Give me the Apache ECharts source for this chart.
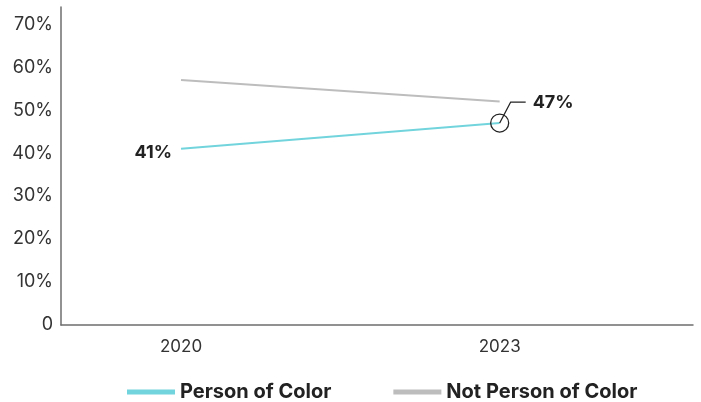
<!DOCTYPE html>
<html><head><meta charset="utf-8">
<script src="https://cdn.jsdelivr.net/npm/echarts@6/dist/echarts.min.js"></script>
<style>html,body{margin:0;padding:0;background:#fff}#c{width:701px;height:402px}</style>
</head><body><div id="c"></div>
<script>
var years = [2020, 2023];
var yearLabels = [2020, 2023];
var personOfColor = [41, 47];
var notPersonOfColor = [57, 52];
var yTicks = [0, 10, 20, 30, 40, 50, 60, 70];
var seriesNames = ['Person of Color', 'Not Person of Color'];

var FONT = 'Inter, "Noto Sans", sans-serif';
var chart = echarts.init(document.getElementById('c'), null, {renderer: 'canvas'});

function pts(arr) { return years.map(function (y, i) { return [y, arr[i]]; }); }

var teal = pts(personOfColor).map(function (p, i) {
  var d = {value: p};
  if (i === 0) {
    d.symbol = 'circle'; d.symbolSize = 0;
    d.label = {show: true, position: 'left', distance: 9, offset: [0, 4], formatter: '{@[1]}%',
      fontFamily: FONT, fontSize: 18, fontWeight: 'bold', color: '#222'};
  } else {
    d.symbol = 'circle'; d.symbolSize = 18;
    d.itemStyle = {color: 'rgba(0,0,0,0)', borderColor: '#222', borderWidth: 1.3};
  }
  return d;
});

chart.setOption({
  animation: false,
  backgroundColor: '#fff',
  grid: {left: 61, right: 8, top: 7, bottom: 77, containLabel: false},
  xAxis: {
    type: 'value', min: 2018.87, max: 2024.82,
    axisLine: {show: true, lineStyle: {color: '#6e6e6e', width: 1.5}},
    axisTick: {show: false},
    splitLine: {show: false},
    axisLabel: {customValues: yearLabels, formatter: function (v) { return String(Math.round(v)); },
      fontFamily: FONT, fontSize: 17, color: '#333', margin: 13}
  },
  yAxis: {
    type: 'value', min: 0, max: 74,
    axisLine: {show: true, lineStyle: {color: '#6e6e6e', width: 1.5}},
    axisTick: {show: false},
    splitLine: {show: false},
    axisLabel: {customValues: yTicks, formatter: function (v) { return v === 0 ? '0' : v + '%'; },
      fontFamily: FONT, fontSize: 18, color: '#333', margin: 8}
  },
  legend: {
    data: seriesNames, left: 122, top: 377, icon: 'rect', itemWidth: 48, itemHeight: 5, itemGap: 62,
    textStyle: {fontFamily: FONT, fontSize: 20, fontWeight: 'bold', color: '#222'}
  },
  series: [
    {name: seriesNames[0], type: 'line', data: teal, color: '#72d4dc',
      lineStyle: {color: '#72d4dc', width: 2}, showSymbol: true, z: 3},
    {name: seriesNames[1], type: 'line', data: pts(notPersonOfColor), color: '#bdbdbd', symbol: 'none',
      lineStyle: {color: '#bdbdbd', width: 2}, z: 2}
  ]
});

var p = chart.convertToPixel({gridIndex: 0}, [years[1], personOfColor[1]]);
chart.setOption({
  graphic: [
    {type: 'polyline', shape: {points: [[p[0], p[1]], [p[0] + 11, p[1] - 21], [p[0] + 26, p[1] - 21]]},
      style: {stroke: '#222', lineWidth: 1.3, fill: null}, z: 10},
    {type: 'text', x: p[0] + 33, y: p[1] - 20, style: {text: personOfColor[1] + '%', fontFamily: FONT,
      fontSize: 18, fontWeight: 'bold', fill: '#222', verticalAlign: 'middle'}, z: 10}
  ]
});
</script></body></html>
